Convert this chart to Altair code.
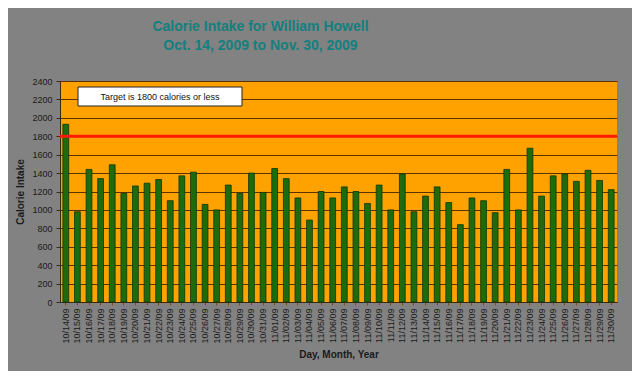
import altair as alt
import pandas as pd

dates = [
    "10/14/09", "10/15/09", "10/16/09", "10/17/09", "10/18/09", "10/19/09",
    "10/20/09", "10/21/09", "10/22/09", "10/23/09", "10/24/09", "10/25/09",
    "10/26/09", "10/27/09", "10/28/09", "10/29/09", "10/30/09", "10/31/09",
    "11/01/09", "11/02/09", "11/03/09", "11/04/09", "11/05/09", "11/06/09",
    "11/07/09", "11/08/09", "11/09/09", "11/10/09", "11/11/09", "11/12/09",
    "11/13/09", "11/14/09", "11/15/09", "11/16/09", "11/17/09", "11/18/09",
    "11/19/09", "11/20/09", "11/21/09", "11/22/09", "11/23/09", "11/24/09",
    "11/25/09", "11/26/09", "11/27/09", "11/28/09", "11/29/09", "11/30/09",
]
calories = [
    1930, 980, 1440, 1340, 1490, 1180,
    1260, 1290, 1330, 1100, 1370, 1410,
    1060, 1000, 1270, 1180, 1400, 1190,
    1450, 1340, 1130, 890, 1200, 1130,
    1250, 1200, 1070, 1270, 1000, 1390,
    980, 1150, 1250, 1080, 840, 1130,
    1100, 970, 1440, 1000, 1670, 1150,
    1370, 1390, 1310, 1430, 1320, 1220,
]
target = [1800]
note = ["Target is 1800 calories or less"]
y_ticks = list(range(0, 2401, 200))

df = pd.DataFrame({"date": dates, "cal": calories})
tdf = pd.DataFrame({"cal": target})
ndf = pd.DataFrame({"note": note})

font = "Liberation Sans"

x_enc = alt.X(
    "date:N", sort=None,
    scale=alt.Scale(paddingInner=0.5, paddingOuter=0.25),
    axis=alt.Axis(
        title="Day, Month, Year", labelAngle=270, labelFontSize=9,
        labelColor="#1a1a1a", labelFont=font, labelPadding=3,
        labelOverlap=False,
        titleFont=font, titleFontSize=10, titleFontWeight="bold",
        titleColor="#1a1a1a", titlePadding=6,
        domainColor="#3a2a10", tickColor="#8a4a10", tickSize=3,
        grid=False,
    ),
)
y_axis = alt.Axis(
    title="Calorie Intake", values=y_ticks, format="d", labelOverlap=False,
    labelFontSize=9, tickCount=30,
    labelColor="#1a1a1a", labelFont=font, labelPadding=4,
    titleFont=font, titleFontSize=10, titleFontWeight="bold",
    titleColor="#1a1a1a", titlePadding=6,
    domainColor="#3a2a10", tickColor="#3a2a10", tickSize=4,
    grid=True, gridColor="#5a3300", gridWidth=1,
)
y_scale = alt.Scale(domain=[0, 2400], nice=False)

bars = alt.Chart(df).mark_bar(
    color="#1e6b0c", stroke="#0b3605", strokeWidth=0.8
).encode(x=x_enc, y=alt.Y("cal:Q", scale=y_scale, axis=y_axis))

rule = alt.Chart(tdf).mark_rule(color="#ff1a00", strokeWidth=3).encode(
    y=alt.Y("cal:Q", scale=y_scale, axis=y_axis)
)

box = alt.Chart(ndf).mark_rect(
    fill="white", stroke="#222222", strokeWidth=1
).encode(
    x=alt.value(18), x2=alt.value(182), y=alt.value(6), y2=alt.value(25)
)

txt = alt.Chart(ndf).mark_text(
    font=font, fontSize=9, color="#111111", align="center", baseline="middle"
).encode(
    x=alt.value(100), y=alt.value(15.5), text="note:N"
)

chart = alt.layer(bars, rule, box, txt).properties(
    width=557,
    height=221,
    background="#828282",
    padding={"left": 52, "top": 73, "right": 15, "bottom": 69},
    autosize=alt.AutoSizeParams(type="none"),
    title=alt.TitleParams(
        text=["Calorie Intake for William Howell", "Oct. 14, 2009 to Nov. 30, 2009"],
        font=font, fontSize=14, fontWeight="bold", color="#13807f",
        anchor="middle", dx=-78, offset=24, lineHeight=19,
    ),
).configure_view(fill="#ffa200", stroke=None)

chart.save("out.html", embed_options={"renderer": "svg", "actions": False})
